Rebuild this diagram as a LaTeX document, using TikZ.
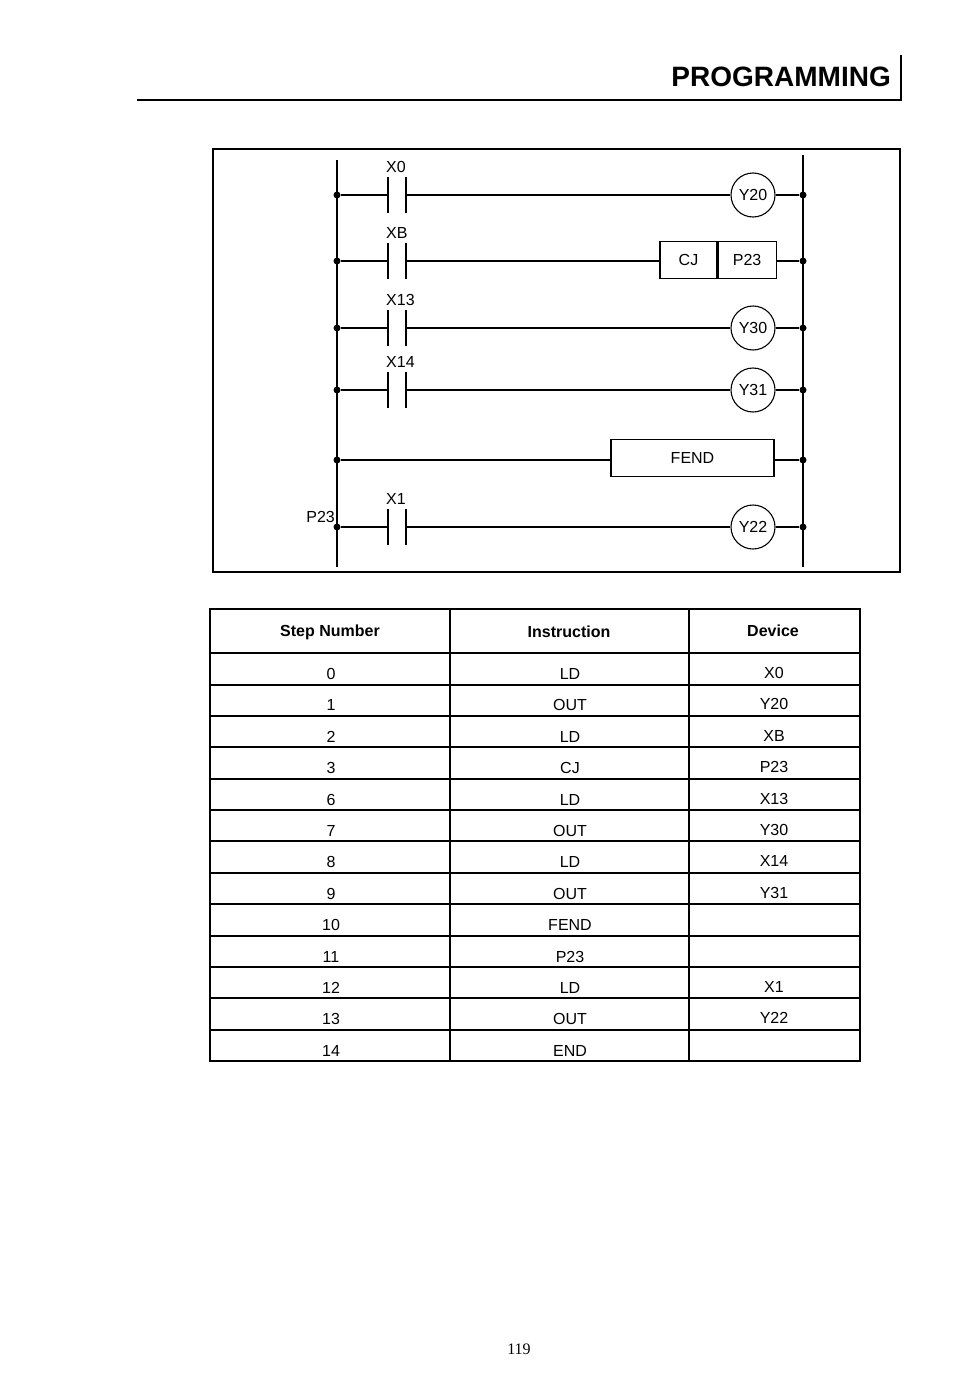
\documentclass[tikz,border=0pt]{standalone}
\usepackage{fontspec}
\setmainfont{Liberation Sans}
\newfontfamily\serifpg{Liberation Serif}
\begin{document}
\begin{tikzpicture}[x=1pt,y=-1pt,
  lbl/.style={font=\fontsize{16}{18}\selectfont,inner sep=0},
  coil/.style={draw,circle,line width=1.1pt,minimum size=44,inner sep=0,font=\fontsize{16}{18}\selectfont},
  fbox/.style={draw,line width=1.1pt,inner sep=0,font=\fontsize{16}{18}\selectfont},
  dot/.style={circle,fill,inner sep=0,minimum size=7},
  w/.style={line width=1.1pt}]
\useasboundingbox (0,0) rectangle (975,1394);
% header
\node[anchor=base east,inner sep=0,font=\fontsize{28}{30}\selectfont\bfseries] (hdr) at (891,87) {PROGRAMMING};
\draw[line width=1.5pt] (137,100) -- (901,100) -- (901,55);
\node[font=\serifpg\fontsize{16}{18}\selectfont] (pg) at (519,1349) {119};
% frame
\draw[w] (213,149) rectangle (900,572);
% rails
\coordinate (LT) at (337,160); \coordinate (LB) at (337,567);
\coordinate (RT) at (803,155); \coordinate (RB) at (803,567);
\draw[w] (LT) -- (LB); \draw[w] (RT) -- (RB);
% rungs with contacts
\foreach \y/\c/\n in {195/X0/a,261/XB/b,328/X13/c,390/X14/d,527/X1/f}{
  \node[dot] (l\n) at (337,\y) {};
  \node[dot] (r\n) at (803,\y) {};
  \coordinate (ca\n) at (388,\y); \coordinate (cb\n) at (406,\y);
  \draw[w] (l\n) -- (ca\n);
  \draw[line width=1.6pt] (388,\y-18) -- (388,\y+18) (406,\y-18) -- (406,\y+18);
  \node[lbl,anchor=south west] (t\n) at (386,\y-22) {\c};
}
\node[coil] (y20) at (753,195) {Y20};
\node[coil] (y30) at (753,328) {Y30};
\node[coil] (y31) at (753,390) {Y31};
\node[coil] (y22) at (753,527) {Y22};
\draw[w] (cba) -- (y20) -- (ra);
\draw[w] (cbc) -- (y30) -- (rc);
\draw[w] (cbd) -- (y31) -- (rd);
\draw[w] (cbf) -- (y22) -- (rf);
\node[fbox,minimum width=57,minimum height=37] (cj) at (688.5,260) {CJ};
\node[fbox,minimum width=58,minimum height=37,anchor=west] (p23) at (cj.east) {P23};
\draw[w] (cbb) -- (cbb -| cj.west); \draw[w] (rb -| p23.east) -- (rb);
\node[dot] (le) at (337,460) {}; \node[dot] (re) at (803,460) {};
\node[fbox,minimum width=163,minimum height=37] (fend) at (692.5,458) {FEND};
\draw[w] (le) -- (le -| fend.west); \draw[w] (re -| fend.east) -- (re);
\node[lbl,anchor=east] (p23l) at (335,517) {P23};
% table
\draw[w] (210,609) rectangle (860,1061);
\draw[w] (450,609) -- (450,1061) (689,609) -- (689,1061);
\foreach \yy in {653,685,716,747,779,810,841,873,904,936,967,998,1030}{\draw[w] (210,\yy) -- (860,\yy);}
\node[font=\fontsize{16}{18}\selectfont\bfseries] (h1) at (330,632) {Step Number};
\node[font=\fontsize{16}{18}\selectfont\bfseries] (h2) at (569,632) {Instruction};
\node[font=\fontsize{16}{18}\selectfont\bfseries] (h3) at (773,631) {Device};
\foreach \i/\a/\b/\c in {0/0/LD/X0,1/1/OUT/Y20,2/2/LD/XB,3/3/CJ/P23,4/6/LD/X13,5/7/OUT/Y30,6/8/LD/X14,7/9/OUT/Y31,8/10/FEND/,9/11/P23/,10/12/LD/X1,11/13/OUT/Y22,12/14/END/}{
  \pgfmathsetmacro{\yc}{674+31.4*\i}
  \node[lbl] (s\i) at (331,\yc) {\a};
  \node[lbl] (n\i) at (570,\yc) {\b};
  \node[lbl] (d\i) at (774,\yc-1) {\c};
}
\end{tikzpicture}
\end{document}
